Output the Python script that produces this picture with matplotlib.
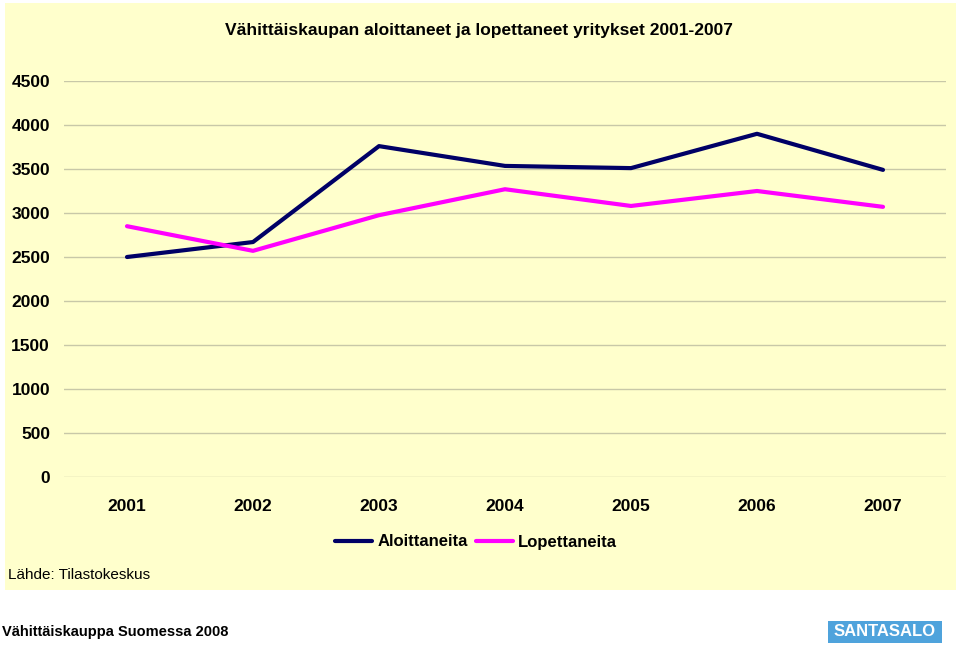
import matplotlib.pyplot as plt
from matplotlib.patches import Rectangle

years = ['2001', '2002', '2003', '2004', '2005', '2006', '2007']
aloittaneita = [2500, 2670, 3760, 3535, 3510, 3900, 3490]
lopettaneita = [2850, 2570, 2975, 3270, 3080, 3250, 3070]
y_ticks = [0, 500, 1000, 1500, 2000, 2500, 3000, 3500, 4000, 4500]

plt.rcParams['font.family'] = ['Liberation Sans', 'DejaVu Sans']

W, H = 960, 645
fig = plt.figure(figsize=(W / 100, H / 100), dpi=100)
fig.patch.set_facecolor('white')

# yellow panel behind the chart
fig.patches.append(Rectangle((5 / W, 1 - 590 / H), 951 / W, 587 / H,
                             transform=fig.transFigure, facecolor='#FFFFCC',
                             edgecolor='none', zorder=-1))

ax = fig.add_axes([64 / W, 1 - 477 / H, 882 / W, 396 / H])
ax.set_zorder(2)
ax.set_facecolor('none')
x = list(range(len(years)))
ax.plot(x, aloittaneita, color='#000066', lw=3.0, label='Aloittaneita',
        solid_capstyle='round', zorder=3)
ax.plot(x, lopettaneita, color='#FF00FF', lw=3.0, label='Lopettaneita',
        solid_capstyle='round', zorder=3)

ax.set_xlim(-0.5, len(years) - 0.5)
ax.set_ylim(0, 4500)
ax.set_yticks(y_ticks)
ax.set_xticks(x)
ax.set_xticklabels(years)
ax.grid(axis='y', color='#C8C8A8', lw=1)
ax.set_axisbelow(True)
for s in ax.spines.values():
    s.set_visible(False)
ax.tick_params(length=0, labelsize=12.5)
ax.tick_params(axis='y', pad=10)
ax.tick_params(axis='x', pad=16)
for lbl in ax.get_xticklabels() + ax.get_yticklabels():
    lbl.set_fontweight('bold')

fig.text(479 / W, 1 - 31 / H, 'Vähittäiskaupan aloittaneet ja lopettaneet yritykset 2001-2007',
         ha='center', va='center', fontsize=12.5, fontweight='bold')

fig.legend(loc='center', bbox_to_anchor=(476 / W, 1 - 542 / H), ncol=2, frameon=False,
           prop={'size': 12, 'weight': 'bold'}, handlelength=2.2, handletextpad=0.3,
           columnspacing=0.5, handleheight=0.5)

fig.text(8 / W, 1 - 575 / H, 'Lähde: Tilastokeskus', ha='left', va='center', fontsize=11)
fig.text(2 / W, 1 - 632 / H, 'Vähittäiskauppa Suomessa 2008', ha='left', va='center',
         fontsize=10.5, fontweight='bold')

# logo box
fig.patches.append(Rectangle((828 / W, 1 - 643 / H), 114 / W, 22 / H,
                             transform=fig.transFigure, facecolor='#4FA3DC',
                             edgecolor='none'))
fig.text(885 / W, 1 - 632 / H, 'SANTASALO', ha='center', va='center', color='white',
         fontsize=12, fontweight='bold')

fig.savefig('out.png', dpi=100)
